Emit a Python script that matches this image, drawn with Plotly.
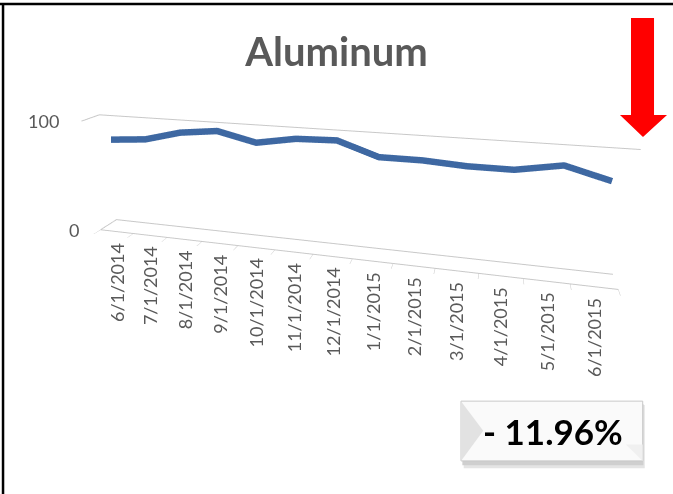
import plotly.graph_objects as go

categories = ["6/1/2014", "7/1/2014", "8/1/2014", "9/1/2014", "10/1/2014", "11/1/2014",
              "12/1/2014", "1/1/2015", "2/1/2015", "3/1/2015", "4/1/2015", "5/1/2015", "6/1/2015"]
values = [82, 84.5, 92.5, 96, 88.5, 94, 95, 84, 84, 82, 82, 88, 79]
z_ticks = [0, 100]
title_text = "Aluminum"
change_text = "- 11.96%"

n = len(categories)
idx = list(range(n))
DEPTH_MID = 0.5
FONT = "Lato"
GREY = "#595959"
GRID = "#C8C8C8"

fig = go.Figure()
fig.add_trace(go.Scatter3d(
    x=idx, y=[DEPTH_MID] * n, z=values, mode="lines",
    line=dict(color="#3E68A2", width=13), hoverinfo="skip", showlegend=False))

annotations = []
for i, c in enumerate(categories):
    annotations.append(dict(x=i, y=0, z=0, text=c, textangle=-90, showarrow=False,
                            xanchor="center", yanchor="top", yshift=-9,
                            font=dict(family=FONT, size=18, color=GREY)))
for t in z_ticks:
    annotations.append(dict(x=-0.5, y=0, z=t, text=str(t), showarrow=False,
                            xanchor="right", yanchor="middle", xshift=-20,
                            font=dict(family=FONT, size=18, color=GREY)))

axis_common = dict(showbackground=False, showspikes=False, zeroline=False, title=dict(text=""))
fig.update_layout(
    width=673, height=494, margin=dict(l=0, r=0, t=0, b=0),
    paper_bgcolor="white",
    scene=dict(
        domain=dict(x=[0.0, 0.985], y=[0.0, 1.0]),
        xaxis=dict(range=[-0.5, n - 0.5], showgrid=False, showline=True, linecolor=GRID, linewidth=2,
                   ticks="outside", tickvals=[i - 0.5 for i in range(n + 1)], ticklen=3, tickcolor=GRID,
                   showticklabels=False, **axis_common),
        yaxis=dict(range=[0, 1], showgrid=False, showline=False, ticks="", showticklabels=False, **axis_common),
        zaxis=dict(range=[0, 100], tickvals=z_ticks, showgrid=True, gridcolor=GRID, gridwidth=2,
                   showline=False, ticks="", showticklabels=False, **axis_common),
        aspectmode="manual", aspectratio=dict(x=2.95, y=0.17, z=0.67),
        camera=dict(eye=dict(x=0.7635, y=-2.9787, z=1.1062),
                    center=dict(x=0.0038, y=-0.1230, z=-0.2593),
                    up=dict(x=0, y=0, z=1), projection=dict(type="perspective")),
        annotations=annotations,
    ),
    title=dict(text="<b>" + title_text + "</b>", x=0.5, xanchor="center", y=0.895, yanchor="middle",
               yref="paper", font=dict(family=FONT, size=40, color=GREY)),
    shapes=[
        # frame: top and left edges
        dict(type="line", xref="paper", yref="paper", x0=0.0, x1=1.0, y0=0.992, y1=0.992,
             line=dict(color="black", width=2.5)),
        dict(type="line", xref="paper", yref="paper", x0=0.0045, x1=0.0045, y0=0.0, y1=0.992,
             line=dict(color="black", width=2.5)),
        # red down arrow
        dict(type="path", xref="paper", yref="paper",
             path="M 0.9376,0.9636 L 0.9718,0.9636 L 0.9718,0.7672 L 0.9911,0.7672 L 0.9554,0.7227 "
                  "L 0.9212,0.7672 L 0.9376,0.7672 Z",
             fillcolor="#FF0000", line=dict(width=0)),
        # box shadow
        dict(type="rect", xref="paper", yref="paper", x0=0.689, x1=0.958, y0=0.052, y1=0.180,
             fillcolor="#E4E4E4", line=dict(width=0)),
        dict(type="rect", xref="paper", yref="paper", x0=0.687, x1=0.956, y0=0.058, y1=0.182,
             fillcolor="#CFCFCF", line=dict(width=0)),
        # box
        dict(type="rect", xref="paper", yref="paper", x0=0.685, x1=0.955, y0=0.067, y1=0.188,
             fillcolor="#FAFAFA", line=dict(color="#C8C8C8", width=1)),
        dict(type="path", xref="paper", yref="paper",
             path="M 0.685,0.188 L 0.718,0.128 L 0.685,0.067 Z",
             fillcolor="#E2E2E2", line=dict(width=0)),
        dict(type="path", xref="paper", yref="paper",
             path="M 0.955,0.067 L 0.930,0.100 L 0.955,0.100 Z",
             fillcolor="#F0F0F0", line=dict(width=0)),
    ],
    annotations=[dict(xref="paper", yref="paper", x=0.822, y=0.128, text="<b>" + change_text + "</b>",
                      showarrow=False, xanchor="center", yanchor="middle",
                      font=dict(family=FONT, size=35, color="black"))],
)

fig.write_html("out.html", config={"displayModeBar": False},
               post_script="document.body.style.margin='0';")
